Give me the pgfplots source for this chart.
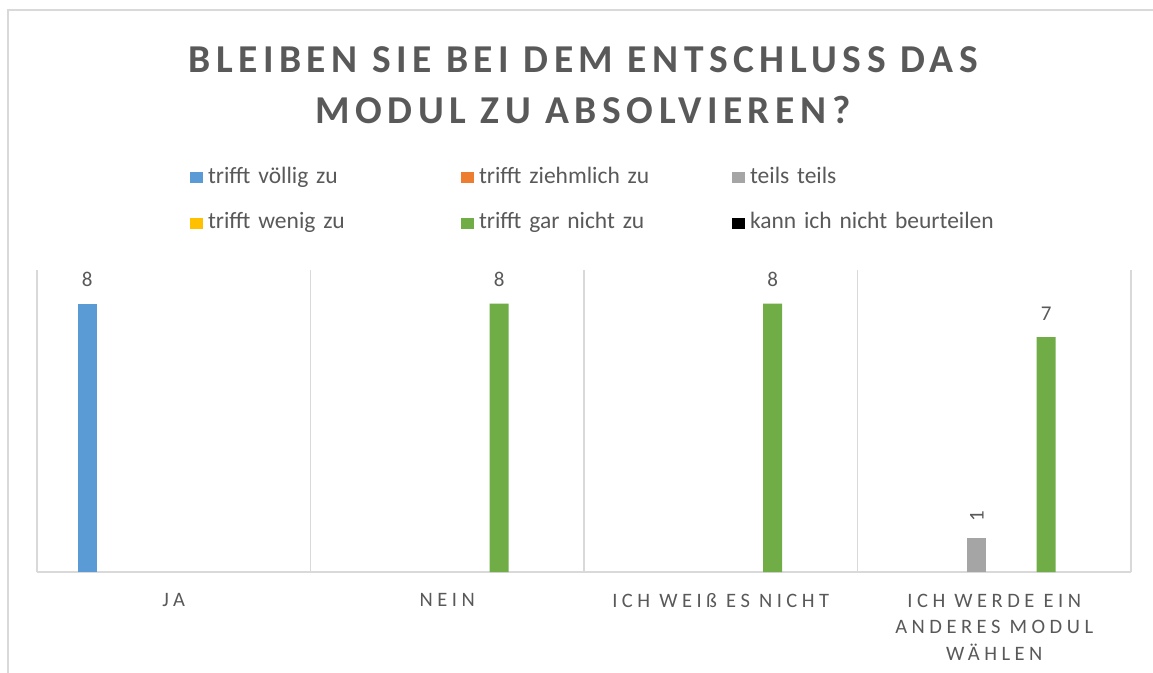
\documentclass[border=0pt]{standalone}
\usepackage{fontspec}
\setmainfont{Carlito}
\newfontfamily\titlefont[LetterSpace=14]{Carlito}
\newfontfamily\axisfont[LetterSpace=22]{Carlito}
\usepackage{pgfplots}
\pgfplotsset{compat=1.18}
\definecolor{cBlue}{HTML}{5B9BD5}
\definecolor{cOrange}{HTML}{ED7D31}
\definecolor{cGray}{HTML}{A5A5A5}
\definecolor{cYellow}{HTML}{FFC000}
\definecolor{cGreen}{HTML}{70AD47}
\definecolor{txt}{HTML}{595959}
\definecolor{gridgray}{HTML}{D9D9D9}
\pgfplotsset{sq legend/.style={legend image code/.code={\fill[##1] (0bp,0bp) rectangle (13bp,11bp);}}}
\begin{document}
\begin{tikzpicture}
\useasboundingbox (0,0) rectangle (1153bp,-673bp);
\fill[white] (0,0) rectangle (1153bp,-673bp);
\draw[gridgray, line width=1.5bp] (7.75bp,-700bp) -- (7.75bp,-9.75bp) -- (1200bp,-9.75bp);
\node[font=\titlefont\bfseries\fontsize{39.5bp}{51bp}\selectfont, text=txt, align=center] at (583bp,-85bp) {BLEIBEN SIE BEI DEM ENTSCHLUSS DAS\\MODUL ZU ABSOLVIEREN?};
\begin{axis}[
 at={(37bp,-572bp)}, anchor=south west,
 scale only axis, width=1094bp, height=302bp,
 xmin=-0.5, xmax=3.5, ymin=0, ymax=9,
 axis y line=none,
 axis x line*=bottom,
 x axis line style={draw=gridgray, line width=1.5bp, -},
 xtick={0,1,2,3},
 xticklabels={JA,NEIN,ICH WEIß ES NICHT,{ICH WERDE EIN\\ANDERES MODUL\\WÄHLEN}},
 major tick length=0pt,
 xticklabel style={font=\axisfont\fontsize{20.5bp}{26.5bp}\selectfont, text=txt, align=center, anchor=north, inner sep=0pt, yshift=-21.5bp},
 extra x ticks={-0.5,0.5,1.5,2.5,3.5},
 extra x tick labels={},
 extra x tick style={grid=major, major grid style={draw=gridgray, line width=1.5bp}},
 ytick=\empty,
 clip=false,
 ybar, bar width=19bp,
 /pgf/number format/assume math mode=true,
 every node near coord/.append style={font=\fontsize{21bp}{25bp}\selectfont, text=txt, inner sep=0pt, anchor=base, yshift=17bp},
 legend columns=3,
 legend style={at={(0.1399,1.341)}, anchor=north west, draw=none, fill=none, inner sep=0pt, outer sep=0pt,
   font=\fontsize{23.5bp}{28bp}\selectfont, text=txt, cells={anchor=base west},
   nodes={text width=253bp, align=left, inner sep=0pt, text height=16bp, text depth=5bp},
   /tikz/every odd column/.append style={column sep=5bp},
   /tikz/every even column/.append style={column sep=0bp}, row sep=24.5bp},
]
\addplot[fill=cBlue, draw=none, bar shift=-86.5bp, sq legend, nodes near coords] coordinates {(0,8)};
\addlegendimage{fill=cOrange, draw=none, sq legend}
\addplot[fill=cGray, draw=none, bar shift=-17.3bp, sq legend, nodes near coords, every node near coord/.append style={rotate=90, anchor=west}] coordinates {(3,1)};
\addlegendimage{fill=cYellow, draw=none, sq legend}
\addplot[fill=cGreen, draw=none, bar shift=51.9bp, sq legend, nodes near coords] coordinates {(1,8) (2,8) (3,7)};
\addlegendimage{fill=black, draw=none, sq legend}
\legend{trifft völlig zu, trifft ziehmlich zu, teils teils, trifft wenig zu, trifft gar nicht zu, kann ich nicht beurteilen}
\end{axis}
\end{tikzpicture}
\end{document}
